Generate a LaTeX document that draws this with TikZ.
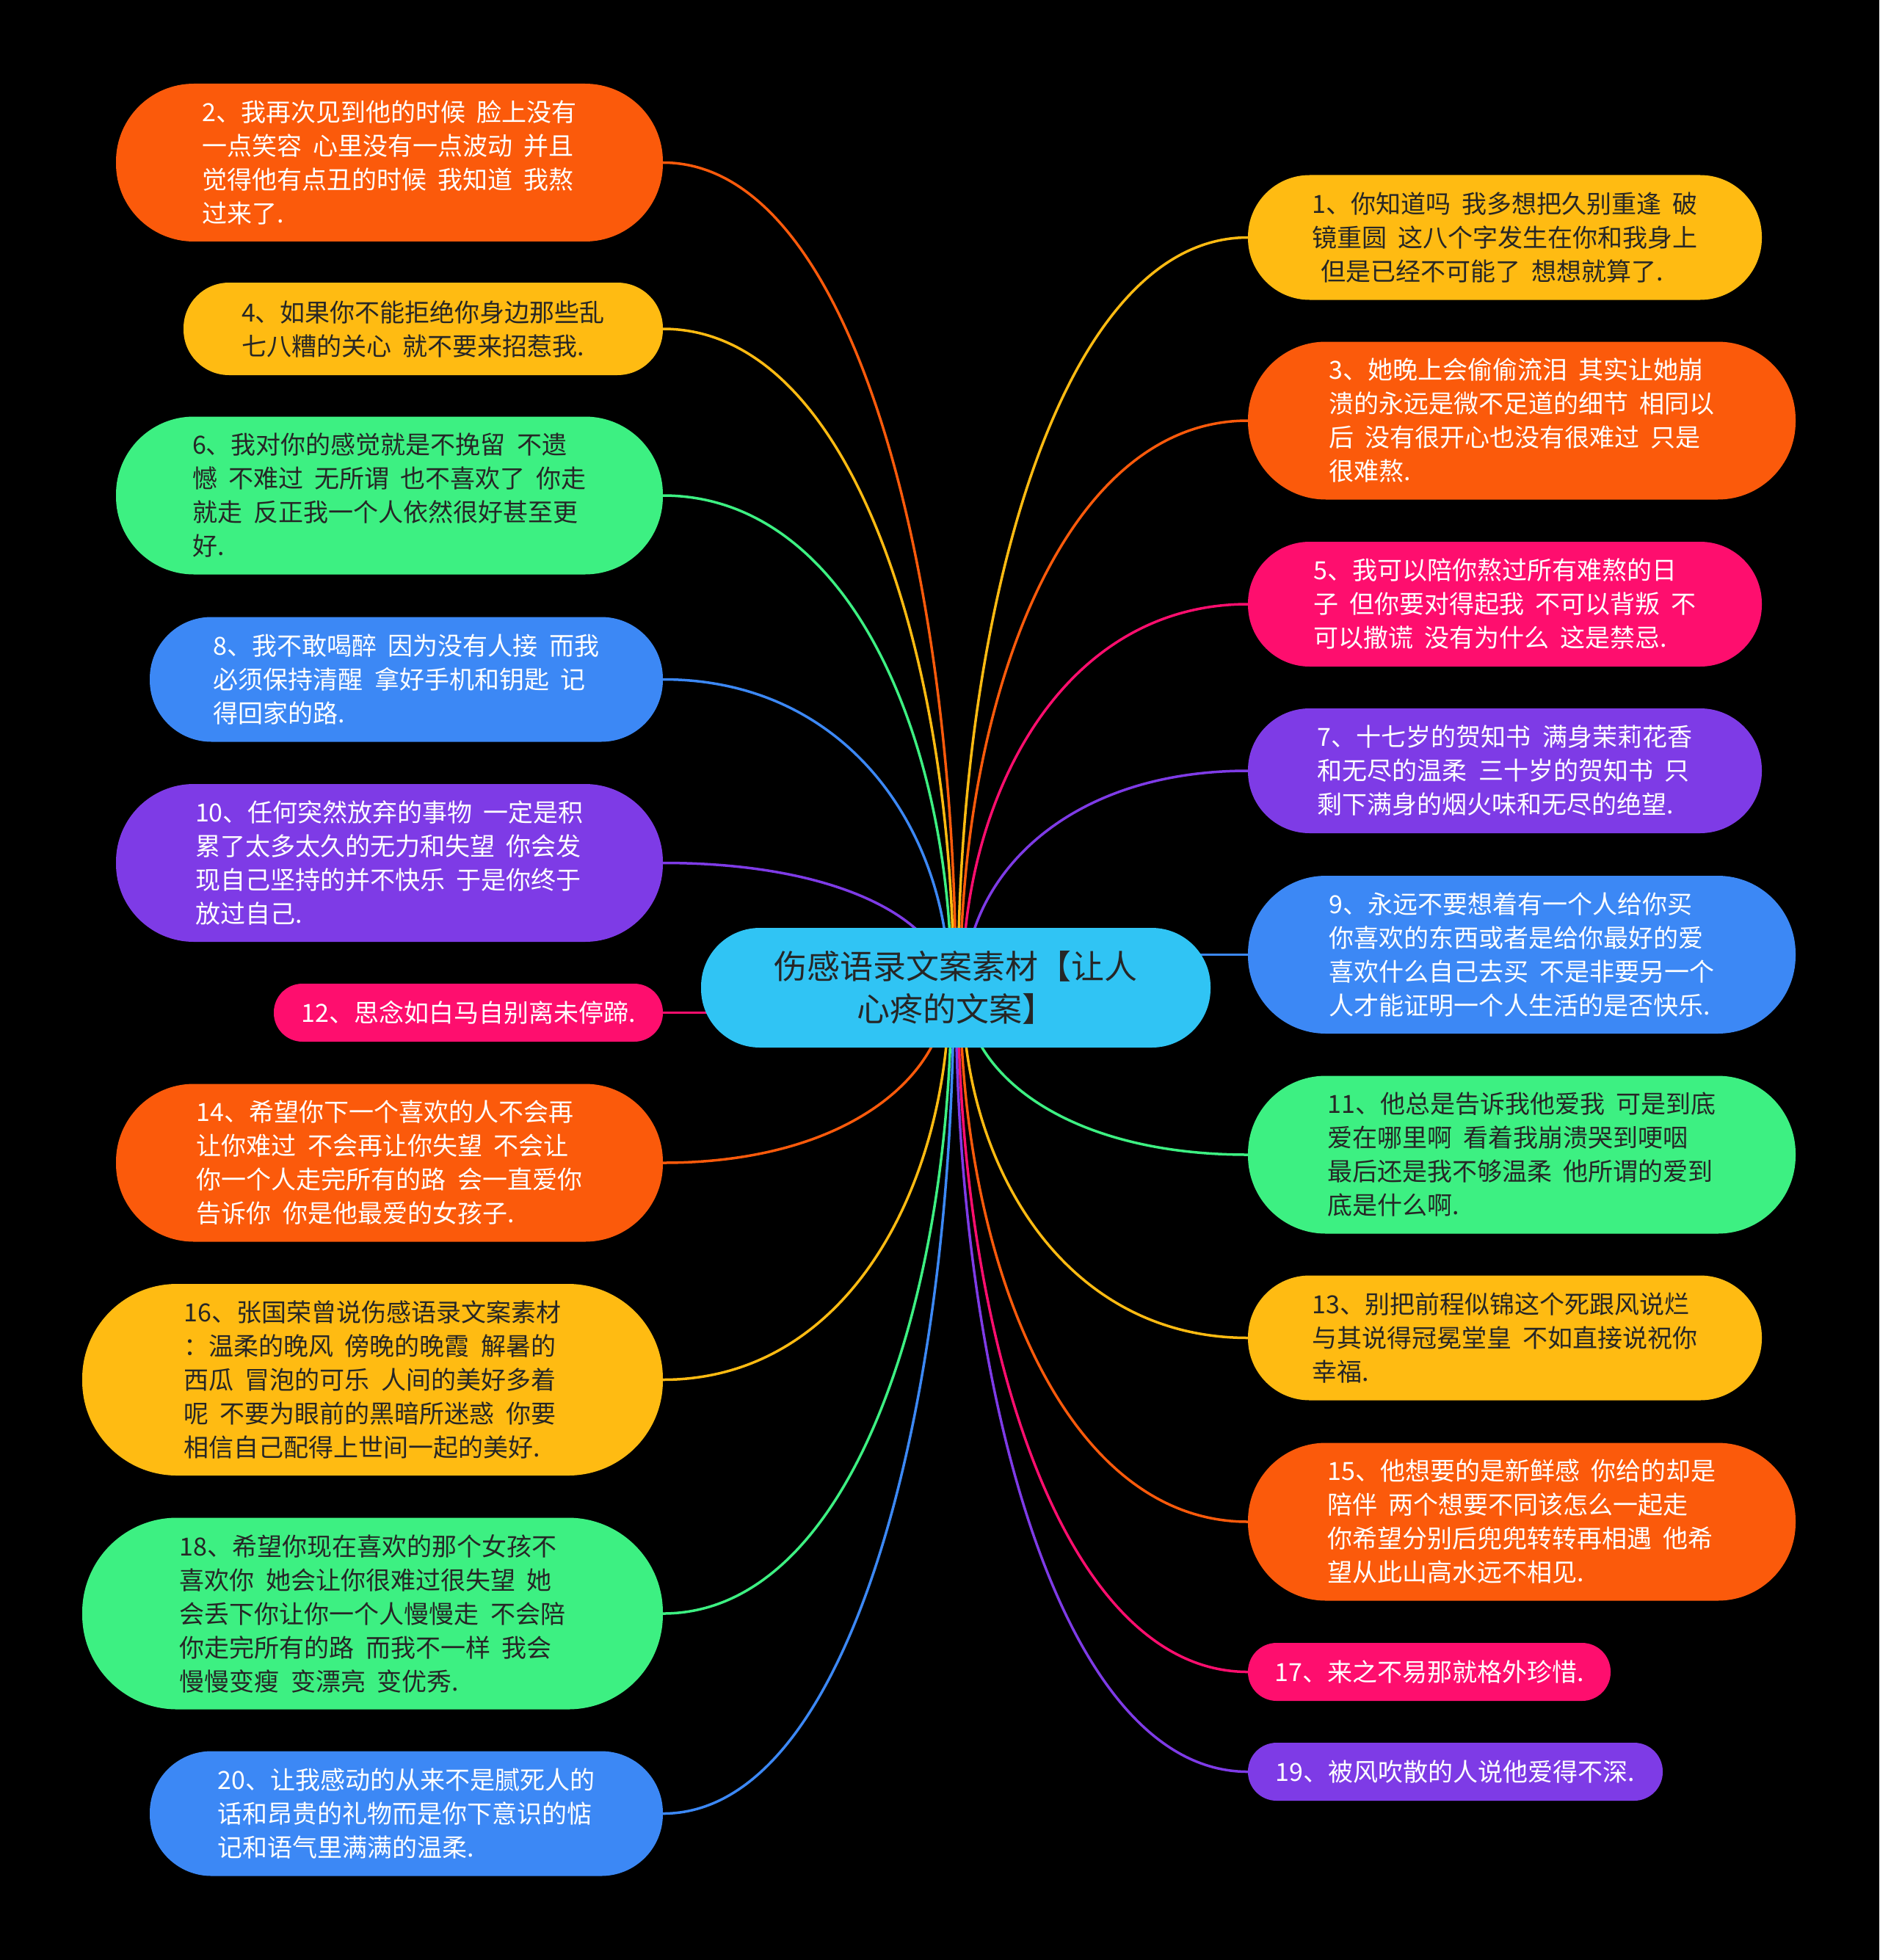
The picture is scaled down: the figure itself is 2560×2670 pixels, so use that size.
\documentclass[tikz,border=0pt]{standalone}
\usepackage{fontspec}
\setmainfont[WordSpace=2]{Noto Sans CJK SC}
\usetikzlibrary{calc}
\definecolor{cO}{HTML}{FB5A0B}
\definecolor{cY}{HTML}{FFBB12}
\definecolor{cG}{HTML}{3DF082}
\definecolor{cB}{HTML}{3C88F5}
\definecolor{cP}{HTML}{7E3BE6}
\definecolor{cK}{HTML}{FE0E6E}
\definecolor{cC}{HTML}{30C4F4}
\definecolor{cT}{HTML}{262626}
\pgfdeclarelayer{back}
\pgfdeclarelayer{conn}
\pgfsetlayers{back,conn,main}
\tikzset{
  bub/.style={rectangle, inner sep=0pt, align=left, font=\fontsize{34}{46}\selectfont},
  box/.style n args={3}{minimum width=#1, minimum height=#2, rounded corners=#3},
  nO/.style={fill=cO, text=white},
  nY/.style={fill=cY, text=cT},
  nG/.style={fill=cG, text=cT},
  nB/.style={fill=cB, text=white},
  nP/.style={fill=cP, text=white},
  nK/.style={fill=cK, text=white},
  link/.style={line width=3.5pt},
}
\newcommand\mylink[3]{\draw[link,#1] (#3) .. controls ($(#3)!0.65!(#3 -| #2)$) and ($(#2)!0.5!(#3 -| #2)$) .. (#2);}
\begin{document}
\begin{tikzpicture}[x=1pt,y=-1pt]
\begin{pgfonlayer}{back}
\fill[black] (0,0) rectangle (2560,2670);
\end{pgfonlayer}
\useasboundingbox (0,0) rectangle (2560,2670);

% center
\node[rectangle, inner sep=0pt, align=center, fill=cC, text=cT, box={694}{163}{80},
  font=\fontsize{45}{58}\selectfont] (c) at (1302,1345.5)
  {伤感语录文案素材【让人\\心疼的文案】};

% left
\node[bub, nO, box={745}{215}{106}] (n2) at (530.5,221.5)
 {2、我再次见到他的时候 脸上没有\\一点笑容 心里没有一点波动 并且\\觉得他有点丑的时候 我知道 我熬\\过来了.};
\node[bub, nY, box={653}{126}{62}] (n4) at (576.5,448)
 {4、如果你不能拒绝你身边那些乱\\七八糟的关心 就不要来招惹我.};
\node[bub, nG, box={745}{215}{106}] (n6) at (530.5,675)
 {6、我对你的感觉就是不挽留 不遗\\憾 不难过 无所谓 也不喜欢了 你走\\就走 反正我一个人依然很好甚至更\\好.};
\node[bub, nB, box={699}{170}{84}] (n8) at (553.5,925.5)
 {8、我不敢喝醉 因为没有人接 而我\\必须保持清醒 拿好手机和钥匙 记\\得回家的路.};
\node[bub, nP, box={745}{215}{106}] (n10) at (530.5,1175.5)
 {10、任何突然放弃的事物 一定是积\\累了太多太久的无力和失望 你会发\\现自己坚持的并不快乐 于是你终于\\放过自己.};
\node[bub, nK, box={530}{79}{39}] (n12) at (638,1379.5)
 {12、思念如白马自别离未停蹄.};
\node[bub, nO, box={745}{215}{106}] (n14) at (530.5,1584)
 {14、希望你下一个喜欢的人不会再\\让你难过 不会再让你失望 不会让\\你一个人走完所有的路 会一直爱你\\告诉你 你是他最爱的女孩子.};
\node[bub, nY, box={791}{261}{129}] (n16) at (507.5,1879.5)
 {16、张国荣曾说伤感语录文案素材\\：温柔的晚风 傍晚的晚霞 解暑的\\西瓜 冒泡的可乐 人间的美好多着\\呢 不要为眼前的黑暗所迷惑 你要\\相信自己配得上世间一起的美好.};
\node[bub, nG, box={791}{261}{129}] (n18) at (507.5,2198)
 {18、希望你现在喜欢的那个女孩不\\喜欢你 她会让你很难过很失望 她\\会丢下你让你一个人慢慢走 不会陪\\你走完所有的路 而我不一样 我会\\慢慢变瘦 变漂亮 变优秀.};
\node[bub, nB, box={699}{170}{84}] (n20) at (553.5,2470.5)
 {20、让我感动的从来不是腻死人的\\话和昂贵的礼物而是你下意识的惦\\记和语气里满满的温柔.};

% right
\node[bub, nY, box={700}{170}{84}] (n1) at (2050,323.5)
 {1、你知道吗 我多想把久别重逢 破\\镜重圆 这八个字发生在你和我身上\\\hspace*{0.35em}但是已经不可能了 想想就算了.};
\node[bub, nO, box={746}{215}{106}] (n3) at (2073,573)
 {3、她晚上会偷偷流泪 其实让她崩\\溃的永远是微不足道的细节 相同以\\后 没有很开心也没有很难过 只是\\很难熬.};
\node[bub, nK, box={700}{170}{84}] (n5) at (2050,823)
 {5、我可以陪你熬过所有难熬的日\\子 但你要对得起我 不可以背叛 不\\可以撒谎 没有为什么 这是禁忌.};
\node[bub, nP, box={700}{170}{84}] (n7) at (2050,1050)
 {7、十七岁的贺知书 满身茉莉花香\\和无尽的温柔 三十岁的贺知书 只\\剩下满身的烟火味和无尽的绝望.};
\node[bub, nB, box={746}{215}{106}] (n9) at (2073,1300.5)
 {9、永远不要想着有一个人给你买\\你喜欢的东西或者是给你最好的爱\\喜欢什么自己去买 不是非要另一个\\人才能证明一个人生活的是否快乐.};
\node[bub, nG, box={746}{215}{106}] (n11) at (2073,1573)
 {11、他总是告诉我他爱我 可是到底\\爱在哪里啊 看着我崩溃哭到哽咽\\最后还是我不够温柔 他所谓的爱到\\底是什么啊.};
\node[bub, nY, box={700}{170}{84}] (n13) at (2050,1822.5)
 {13、别把前程似锦这个死跟风说烂\\与其说得冠冕堂皇 不如直接说祝你\\幸福.};
\node[bub, nO, box={746}{215}{106}] (n15) at (2073,2073)
 {15、他想要的是新鲜感 你给的却是\\陪伴 两个想要不同该怎么一起走\\你希望分别后兜兜转转再相遇 他希\\望从此山高水远不相见.};
\node[bub, nK, box={494}{79}{39}] (n17) at (1947,2277.5)
 {17、来之不易那就格外珍惜.};
\node[bub, nP, box={565}{79}{39}] (n19) at (1982.5,2413.5)
 {19、被风吹散的人说他爱得不深.};

% connector end points, hidden under the central node
\coordinate (e10) at (1290,1345.5);
\coordinate (e8)  at (1293,1345.5);
\coordinate (e6)  at (1296,1345.5);
\coordinate (e4)  at (1299,1345.5);
\coordinate (e2)  at (1302,1345.5);
\coordinate (e1)  at (1305,1345.5);
\coordinate (e3)  at (1308,1345.5);
\coordinate (e5)  at (1311,1345.5);
\coordinate (e7)  at (1314,1345.5);
\coordinate (e14) at (1290,1345.5);
\coordinate (e16) at (1293,1345.5);
\coordinate (e18) at (1296,1345.5);
\coordinate (e20) at (1299,1345.5);
\coordinate (e19) at (1302,1345.5);
\coordinate (e17) at (1305,1345.5);
\coordinate (e15) at (1308,1345.5);
\coordinate (e13) at (1311,1345.5);
\coordinate (e11) at (1314,1345.5);

\begin{pgfonlayer}{conn}
\mylink{cO}{e2}{n2.east}
\mylink{cY}{e4}{n4.east}
\mylink{cG}{e6}{n6.east}
\mylink{cB}{e8}{n8.east}
\mylink{cP}{e10}{n10.east}
\mylink{cO}{e14}{n14.east}
\mylink{cY}{e16}{n16.east}
\mylink{cG}{e18}{n18.east}
\mylink{cB}{e20}{n20.east}
\mylink{cY}{e1}{n1.west}
\mylink{cO}{e3}{n3.west}
\mylink{cK}{e5}{n5.west}
\mylink{cP}{e7}{n7.west}
\mylink{cG}{e11}{n11.west}
\mylink{cY}{e13}{n13.west}
\mylink{cO}{e15}{n15.west}
\mylink{cK}{e17}{n17.west}
\mylink{cP}{e19}{n19.west}
\draw[link, cK] (n12.east) -- (n12.east -| c.center);
\draw[link, cB] (n9.west) -- (n9.west -| c.center);
\end{pgfonlayer}
\end{tikzpicture}
\end{document}
